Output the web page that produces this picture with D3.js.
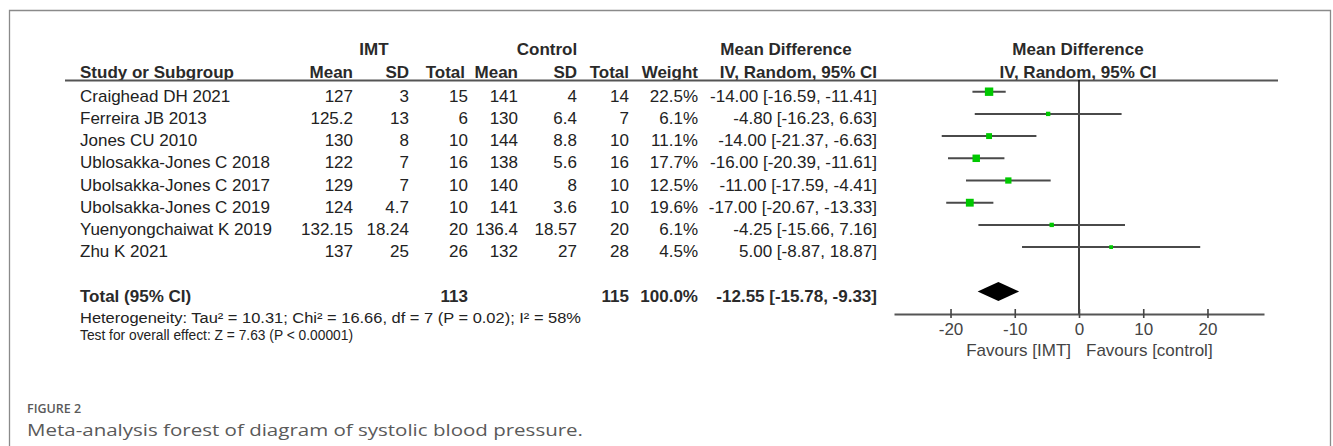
<!DOCTYPE html>
<html>
<head>
<meta charset="utf-8">
<script src="https://cdn.jsdelivr.net/npm/d3@7"></script>
<style>
  html, body { margin: 0; padding: 0; background: #fff; }
  svg { display: block; }
  .t { font-family: "Liberation Sans", Arial, sans-serif; font-size: 17px; fill: #222; }
  .b { font-weight: bold; fill: #2a2a2a; }
  .cap { font-family: "Open Sans", sans-serif; fill: #5a5a5a; }
</style>
</head>
<body>
<script>
// Study-level data: systolic blood pressure, IMT vs control
const studies  = ["Craighead DH 2021", "Ferreira JB 2013", "Jones CU 2010", "Ublosakka-Jones C 2018",
                  "Ubolsakka-Jones C 2017", "Ubolsakka-Jones C 2019", "Yuenyongchaiwat K 2019", "Zhu K 2021"];
const imtMean  = [127, 125.2, 130, 122, 129, 124, 132.15, 137];
const imtSD    = [3, 13, 8, 7, 7, 4.7, 18.24, 25];
const imtN     = [15, 6, 10, 16, 10, 10, 20, 26];
const ctlMean  = [141, 130, 144, 138, 140, 141, 136.4, 132];
const ctlSD    = [4, 6.4, 8.8, 5.6, 8, 3.6, 18.57, 27];
const ctlN     = [14, 7, 10, 16, 10, 10, 20, 28];
const weights  = [22.5, 6.1, 11.1, 17.7, 12.5, 19.6, 6.1, 4.5];
const md       = [-14.00, -4.80, -14.00, -16.00, -11.00, -17.00, -4.25, 5.00];
const ciLow    = [-16.59, -16.23, -21.37, -20.39, -17.59, -20.67, -15.66, -8.87];
const ciHigh   = [-11.41, 6.63, -6.63, -11.61, -4.41, -13.33, 7.16, 18.87];

// Pooled estimate
const totalN       = [113, 115];
const totalWeight  = 100.0;
const pooled       = { md: -12.55, lo: -15.78, hi: -9.33 };

const axisTicks    = [-20, -10, 0, 10, 20];
const heterogeneity = "Heterogeneity: Tau\u00b2 = 10.31; Chi\u00b2 = 16.66, df = 7 (P = 0.02); I\u00b2 = 58%";
const overallTest   = "Test for overall effect: Z = 7.63 (P < 0.00001)";
const figLabel      = "FIGURE 2";
const figCaption    = "Meta-analysis forest of diagram of systolic blood pressure.";

const W = 1333, H = 446;
const svg = d3.select("body").append("svg").attr("width", W).attr("height", H);

// plain hyphen-minus for negative numbers
const loc = d3.formatLocale({ decimal: ".", thousands: ",", grouping: [3], currency: ["", ""], minus: "-" });
const fmt2 = loc.format(".2f");
const fmtW = loc.format(".1f");
const fmtTick = loc.format("d");
const ciText = (m, lo, hi) => `${fmt2(m)} [${fmt2(lo)}, ${fmt2(hi)}]`;

// frame around the figure (open at the bottom)
svg.append("path")
  .attr("d", `M9.5,${H} L9.5,10.5 L1330.5,10.5 L1330.5,${H}`)
  .attr("fill", "none").attr("stroke", "#8a8a8a").attr("stroke-width", 1.3);

// row positions: 8 studies, a blank row, then the total row
const y = d3.scaleLinear().domain([0, 9]).range([91.7, 291.5]);
const x = d3.scaleLinear().domain([-28.8, 28.8]).range([894, 1264]);
const size = d3.scaleSqrt().domain([0, 22.5]).range([0, 8.4]);

// column right edges for the table
const col = { mean1: 353, sd1: 409, n1: 468, mean2: 518, sd2: 577, n2: 629, w: 698, ci: 877 };

function txt(xp, yp, s, anchor, cls) {
  return svg.append("text").attr("class", "t " + (cls || ""))
    .attr("x", xp).attr("y", yp).attr("text-anchor", anchor || "start").text(s);
}

// group headers
txt(374, 55, "IMT", "middle", "b");
txt(547, 55, "Control", "middle", "b");
txt(786, 55, "Mean Difference", "middle", "b");
txt(1078, 55, "Mean Difference", "middle", "b");

// column headers
const hy = 78;
txt(80, hy, "Study or Subgroup", "start", "b");
txt(col.mean1, hy, "Mean", "end", "b");
txt(col.sd1, hy, "SD", "end", "b");
txt(col.n1 - 3, hy, "Total", "end", "b");
txt(col.mean2, hy, "Mean", "end", "b");
txt(col.sd2, hy, "SD", "end", "b");
txt(col.n2, hy, "Total", "end", "b");
txt(col.w, hy, "Weight", "end", "b");
txt(col.ci, hy, "IV, Random, 95% CI", "end", "b");
txt(1078, hy, "IV, Random, 95% CI", "middle", "b");

// header rule
svg.append("line").attr("x1", 65).attr("x2", 1278).attr("y1", 80.5).attr("y2", 80.5)
  .attr("stroke", "#555").attr("stroke-width", 2);

// study rows
studies.forEach((s, i) => {
  const by = y(i) + 10;
  txt(80, by, s);
  txt(col.mean1, by, String(imtMean[i]), "end");
  txt(col.sd1, by, String(imtSD[i]), "end");
  txt(col.n1, by, String(imtN[i]), "end");
  txt(col.mean2, by, String(ctlMean[i]), "end");
  txt(col.sd2, by, String(ctlSD[i]), "end");
  txt(col.n2, by, String(ctlN[i]), "end");
  txt(col.w, by, fmtW(weights[i]) + "%", "end");
  txt(col.ci, by, ciText(md[i], ciLow[i], ciHigh[i]), "end");
});

// total row
const ty = y(9) + 10;
txt(80, ty, "Total (95% CI)", "start", "b");
txt(col.n1, ty, String(totalN[0]), "end", "b");
txt(col.n2, ty, String(totalN[1]), "end", "b");
txt(col.w, ty, fmtW(totalWeight) + "%", "end", "b");
txt(col.ci, ty, ciText(pooled.md, pooled.lo, pooled.hi), "end", "b");

// footer lines
[[heterogeneity, 323, 501], [overallTest, 340, 273]].forEach(([s, yy, len]) => {
  svg.append("text").attr("class", "t")
    .attr("x", 80).attr("y", yy)
    .style("font-size", "14px")
    .attr("textLength", len).attr("lengthAdjust", "spacingAndGlyphs")
    .text(s);
});

// forest plot: line of no effect
const axisY = 314;
svg.append("line").attr("x1", x(0)).attr("x2", x(0)).attr("y1", 80).attr("y2", axisY)
  .attr("stroke", "#111").attr("stroke-width", 1.6);

// confidence intervals
const g = svg.append("g");
g.selectAll("line.ci").data(studies).join("line")
  .attr("x1", (d, i) => x(ciLow[i])).attr("x2", (d, i) => x(ciHigh[i]))
  .attr("y1", (d, i) => y(i)).attr("y2", (d, i) => y(i))
  .attr("stroke", "#4a4a4a").attr("stroke-width", 2);

// weighted point estimates
g.selectAll("rect.pt").data(studies).join("rect")
  .attr("x", (d, i) => x(md[i]) - size(weights[i]) / 2)
  .attr("y", (d, i) => y(i) - size(weights[i]) / 2)
  .attr("width", (d, i) => size(weights[i]))
  .attr("height", (d, i) => size(weights[i]))
  .attr("fill", "#00c800");

// pooled diamond
const dy = y(9), dh = 9.5;
svg.append("path")
  .attr("d", `M${x(pooled.lo)},${dy} L${x(pooled.md)},${dy - dh} L${x(pooled.hi)},${dy} L${x(pooled.md)},${dy + dh} Z`)
  .attr("fill", "#000");

// x axis
const axis = svg.append("g").attr("transform", `translate(0,${axisY})`)
  .call(d3.axisBottom(x).tickValues(axisTicks).tickFormat(fmtTick).tickSizeOuter(0).tickSize(0).tickPadding(0));
axis.select(".domain").attr("stroke", "#555").attr("stroke-width", 2);
axis.selectAll(".tick line").attr("y1", -5).attr("y2", 4).attr("stroke", "#444").attr("stroke-width", 1.6);
axis.selectAll(".tick text")
  .attr("y", 21).attr("dy", null)
  .attr("font-family", "Liberation Sans, Arial, sans-serif").attr("font-size", 17).attr("fill", "#444");

txt(1071, 356, "Favours [IMT]", "end").style("fill", "#444");
txt(1086, 356, "Favours [control]", "start").style("fill", "#444");

// caption
svg.append("text").attr("class", "cap").attr("x", 27).attr("y", 412.5)
  .attr("font-size", 12.5).attr("font-weight", 600).text(figLabel);
svg.append("text").attr("class", "cap").attr("x", 27).attr("y", 436)
  .attr("font-size", 17).attr("textLength", 556).attr("lengthAdjust", "spacingAndGlyphs")
  .text(figCaption);
</script>
</body>
</html>
